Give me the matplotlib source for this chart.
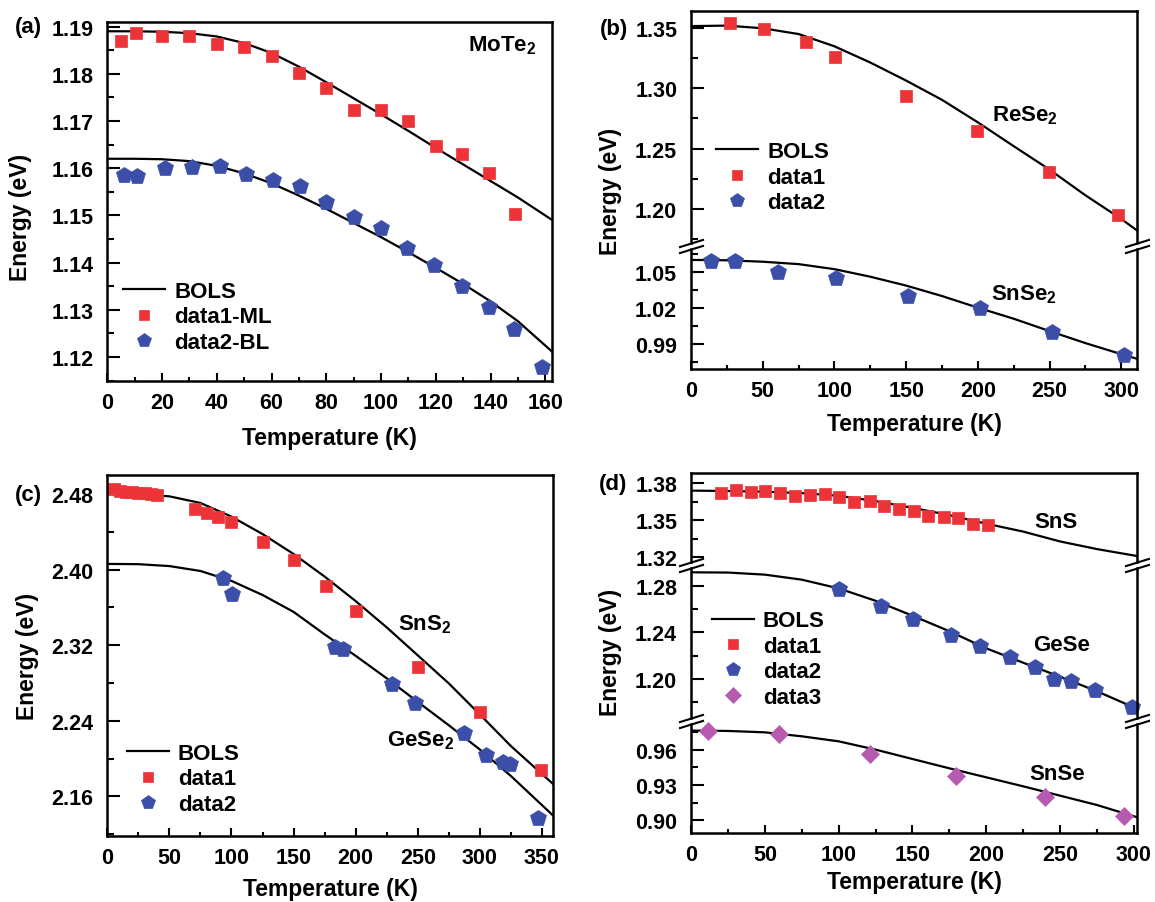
import matplotlib
matplotlib.use("Agg")
import matplotlib.pyplot as plt
from matplotlib.ticker import MultipleLocator, FormatStrFormatter

plt.rcParams['font.family'] = ['Liberation Sans', 'DejaVu Sans']
plt.rcParams['font.weight'] = 'bold'
plt.rcParams['axes.labelweight'] = 'bold'
plt.rcParams['mathtext.fontset'] = 'custom'
plt.rcParams['mathtext.rm'] = 'Liberation Sans'
plt.rcParams['mathtext.bf'] = 'Liberation Sans:bold'
plt.rcParams['mathtext.default'] = 'bf'

RED = '#ec3438'
BLUE = '#3b4fa8'
PINK = '#b75bb0'

# ---------------- (a) MoTe2 ----------------
a_t1 = [5, 10.5, 20, 30, 40, 50, 60, 70, 80, 90, 100, 110, 120, 129.5, 139.5, 149]
a_e1 = [1.1869, 1.1886, 1.1881, 1.1881, 1.1863, 1.1856, 1.1837, 1.1802, 1.1770, 1.1724,
        1.1724, 1.1700, 1.1647, 1.1631, 1.1590, 1.1503]
a_t2 = [6, 11, 21, 31, 41, 50.5, 60.5, 70.5, 80, 90, 100, 109.5, 119.5, 129.5, 139.5, 148.5, 158.8]
a_e2 = [1.1585, 1.1584, 1.1601, 1.1603, 1.1604, 1.1587, 1.1575, 1.1563, 1.1529, 1.1497,
        1.1474, 1.1430, 1.1394, 1.1350, 1.1307, 1.1260, 1.1179]
a_fit_t = [0, 10, 20, 30, 40, 50, 60, 70, 80, 90, 100, 110, 120, 130, 140, 150, 162.6]
a_fit1 = [1.1890, 1.1890, 1.1889, 1.1886, 1.1879, 1.1865, 1.1844, 1.1815, 1.1782, 1.1748,
          1.1714, 1.1679, 1.1643, 1.1608, 1.1573, 1.1538, 1.1490]
a_fit2 = [1.1620, 1.1620, 1.1619, 1.1615, 1.1605, 1.1589, 1.1568, 1.1542, 1.1514, 1.1484,
          1.1454, 1.1422, 1.1389, 1.1355, 1.1318, 1.1276, 1.1211]

# ---------------- (b) ReSe2 / SnSe2 ----------------
b_t1 = [27.4, 51, 80.3, 100.3, 150, 199.5, 249.4, 298]
b_e1 = [1.3544, 1.3494, 1.3384, 1.3264, 1.2940, 1.2649, 1.2308, 1.1947]
b_t2 = [13.8, 30.9, 60.6, 101, 151.2, 201.3, 251.4, 302.3]
b_e2 = [1.0597, 1.0597, 1.0500, 1.0450, 1.0306, 1.0200, 1.0006, 0.9811]
b_fit_t = [0, 25, 50, 75, 100, 125, 150, 175, 200, 225, 250, 275, 300, 311.3]
b_fit1 = [1.3518, 1.3522, 1.3500, 1.3452, 1.3350, 1.3215, 1.3065, 1.2905, 1.2718, 1.2520,
          1.2325, 1.2112, 1.1915, 1.1817]
b_fit2 = [1.0603, 1.0600, 1.0588, 1.0568, 1.0526, 1.0463, 1.0389, 1.0302, 1.0205, 1.0113,
          1.0010, 0.9910, 0.9818, 0.9778]

# ---------------- (c) SnS2 / GeSe2 ----------------
c_t1 = [5, 10, 15, 20, 25, 30, 35, 40, 70.6, 80.5, 89.4, 99.8, 125.1, 150.5, 175.8, 200.2,
        250.3, 300.4, 349.5]
c_e1 = [2.4850, 2.4835, 2.4826, 2.4820, 2.4815, 2.4810, 2.4802, 2.4789, 2.4641, 2.4599,
        2.4553, 2.4507, 2.4296, 2.4106, 2.3830, 2.3566, 2.2966, 2.2488, 2.1881]
c_t2 = [93.3, 100.4, 183.3, 190.1, 229.4, 247.9, 287.5, 304.8, 318.8, 324.2, 347.1]
c_e2 = [2.3908, 2.3742, 2.3177, 2.3159, 2.2789, 2.2588, 2.2270, 2.2037, 2.1959, 2.1942, 2.1367]
c_fit_t = [0, 25, 50, 75, 100, 125, 150, 175, 200, 225, 250, 275, 300, 325, 359]
c_fit1 = [2.4800, 2.4797, 2.4775, 2.4705, 2.4560, 2.4376, 2.4165, 2.3926, 2.3666, 2.3388,
          2.3092, 2.2795, 2.2466, 2.2132, 2.1730]
c_fit2 = [2.4060, 2.4057, 2.4037, 2.3985, 2.3880, 2.3731, 2.3552, 2.3314, 2.3087, 2.2849,
          2.2599, 2.2352, 2.2095, 2.1815, 2.1396]

# ---------------- (d) SnS / GeSe / SnSe ----------------
d_t1 = [20.4, 30.3, 40.3, 50.2, 60.1, 70.6, 80.5, 90.5, 100.4, 110.6, 121, 131, 140.9,
        150.8, 160.8, 171.2, 181.2, 191.1, 201.1]
d_e1 = [1.3719, 1.3749, 1.3732, 1.3741, 1.3722, 1.3700, 1.3708, 1.3714, 1.3692, 1.3646,
        1.3659, 1.3619, 1.3592, 1.3576, 1.3538, 1.3530, 1.3519, 1.3470, 1.3465]
d_t2 = [100.4, 129, 150.1, 176.2, 196.1, 216, 232.9, 246, 257.2, 273.9, 298.7]
d_e2 = [1.2771, 1.2629, 1.2514, 1.2380, 1.2286, 1.2186, 1.2106, 1.2000, 1.1980, 1.1909, 1.1763]
d_t3 = [11.2, 59.4, 121, 179.4, 239.8, 293.7]
d_e3 = [0.9760, 0.9737, 0.9566, 0.9380, 0.9194, 0.9037]
d_fit_t = [0, 25, 50, 75, 100, 125, 150, 175, 200, 225, 250, 275, 302.5]
d_fit1 = [1.3741, 1.3738, 1.3732, 1.3721, 1.3699, 1.3656, 1.3602, 1.3542, 1.3473, 1.3409,
          1.3329, 1.3267, 1.3210]
d_fit2 = [1.2915, 1.2913, 1.2895, 1.2852, 1.2777, 1.2671, 1.2543, 1.2410, 1.2263, 1.2140,
          1.2020, 1.1895, 1.1743]
d_fit3 = [0.9766, 0.9763, 0.9751, 0.9717, 0.9674, 0.9603, 0.9523, 0.9443, 0.9366, 0.9289,
          0.9209, 0.9129, 0.9023]

W, H = 1155, 903
fig = plt.figure(figsize=(W / 100, H / 100), dpi=100)


def px(x, y):
    return (x / W, 1 - y / H)


def add_ax(l, t, r, b):
    return fig.add_axes([l / W, 1 - b / H, (r - l) / W, (b - t) / H])


def style(ax, xmaj, xmin, ymaj, ymin, xlim, ylim):
    ax.set_xlim(*xlim)
    ax.set_ylim(*ylim)
    ax.xaxis.set_major_locator(MultipleLocator(xmaj))
    ax.xaxis.set_minor_locator(MultipleLocator(xmin))
    ax.yaxis.set_major_locator(MultipleLocator(ymaj))
    ax.yaxis.set_minor_locator(MultipleLocator(ymin))
    ax.yaxis.set_major_formatter(FormatStrFormatter('%.2f'))
    ax.tick_params(which='both', direction='in', top=False, right=False, width=1.5,
                   labelsize=15.5)
    ax.tick_params(axis='x', which='major', length=6, pad=8)
    ax.tick_params(axis='x', which='minor', length=3)
    ax.tick_params(axis='y', which='major', length=9, pad=10)
    ax.tick_params(axis='y', which='minor', length=5)
    for s in ax.spines.values():
        s.set_linewidth(1.8)


def hide_x(ax):
    ax.spines['bottom'].set_visible(False)
    ax.tick_params(axis='x', which='both', bottom=False, labelbottom=False)


def breaks(ax, y):
    ax.plot([0, 1], [y, y], transform=ax.transAxes, marker=[(-1, -0.31), (1, 0.31)],
            markersize=18, linestyle='none', color='k', mec='k', mew=1.5, clip_on=False)


def fit(ax, t, e, label='_nolegend_'):
    return ax.plot(t, e, color='k', lw=1.6, label=label)[0]


def pts(ax, t, e, marker, color, ms, label):
    return ax.plot(t, e, linestyle='none', marker=marker, color=color, mec=color, mew=0.5,
                   ms=ms, label=label, clip_on=False)[0]


def legend(ax, handles, x, y):
    ax.legend(handles=handles, loc='center left', bbox_to_anchor=px(x, y),
              bbox_transform=fig.transFigure, frameon=False, borderpad=0,
              prop={'size': 16, 'weight': 'bold'}, markerscale=0.85,
              borderaxespad=0, handlelength=1.9, handletextpad=0.4, labelspacing=0.2)


def xlabel(ax, x, y):
    ax.set_xlabel('Temperature (K)', fontsize=16.5, fontweight='bold', va='center')
    ax.xaxis.set_label_coords(*px(x, y), transform=fig.transFigure)


def ylabel(ax, x, y):
    ax.set_ylabel('Energy (eV)', fontsize=16.5, fontweight='bold', va='center')
    ax.yaxis.set_label_coords(*px(x, y), transform=fig.transFigure)


# (a)
axa = add_ax(107.3, 23.3, 552.4, 381.7)
style(axa, 20, 10, 0.01, 0.005, (0, 162.6), (1.1150, 1.1909))
h0 = fit(axa, a_fit_t, a_fit1, 'BOLS')
fit(axa, a_fit_t, a_fit2)
h1 = pts(axa, a_t1, a_e1, 's', RED, 9.2, 'data1-ML')
h2 = pts(axa, a_t2, a_e2, 'p', BLUE, 12, 'data2-BL')
legend(axa, [h0, h1, h2], 123, 318)
axa.text(131.8, 1.1849, 'MoTe$_2$', fontsize=16, fontweight='bold', ha='left', va='baseline')
xlabel(axa, 329, 439)
ylabel(axa, 21, 217)
fig.text(*px(42.5, 28), '(a)', fontsize=16, fontweight='bold', ha='right', va='center')

# (b)
axb1 = add_ax(691.1, 11.7, 1137.4, 244)
axb2 = add_ax(691.1, 250, 1137.4, 370)
style(axb1, 50, 25, 0.05, 0.025, (0, 311.3), (1.1715, 1.3646))
style(axb2, 50, 25, 0.03, 0.015, (0, 311.3), (0.9694, 1.0694))
hide_x(axb1)
axb2.spines['top'].set_visible(False)
breaks(axb1, 0)
breaks(axb2, 1)
h0 = fit(axb1, b_fit_t, b_fit1, 'BOLS')
fit(axb2, b_fit_t, b_fit2)
h1 = pts(axb1, b_t1, b_e1, 's', RED, 9.2, 'data1')
h2 = pts(axb2, b_t2, b_e2, 'p', BLUE, 12, 'data2')
legend(axb1, [h0, h1, h2], 716, 178)
axb1.text(210.2, 1.2731, 'ReSe$_2$', fontsize=16, fontweight='bold', ha='left', va='baseline')
axb2.text(209, 1.0278, 'SnSe$_2$', fontsize=16, fontweight='bold', ha='left', va='baseline')
xlabel(axb2, 914.3, 425)
ylabel(axb2, 611, 191)
fig.text(*px(627.7, 29), '(b)', fontsize=16, fontweight='bold', ha='right', va='center')

# (c)
axc = add_ax(107.3, 476, 553, 836.7)
style(axc, 50, 25, 0.08, 0.04, (0, 358.9), (2.1183, 2.5001))
h0 = fit(axc, c_fit_t, c_fit1, 'BOLS')
fit(axc, c_fit_t, c_fit2)
h1 = pts(axc, c_t1, c_e1, 's', RED, 9.2, 'data1')
h2 = pts(axc, c_t2, c_e2, 'p', BLUE, 12, 'data2')
legend(axc, [h0, h1, h2], 126.7, 780)
axc.text(233.8, 2.3371, 'SnS$_2$', fontsize=16, fontweight='bold', ha='left', va='baseline')
axc.text(224.9, 2.2136, 'GeSe$_2$', fontsize=16, fontweight='bold', ha='left', va='baseline')
xlabel(axc, 330, 890)
ylabel(axc, 27.7, 656.7)
fig.text(*px(42.5, 495), '(c)', fontsize=16, fontweight='bold', ha='right', va='center')

# (d)
axd1 = add_ax(691.1, 474, 1137.4, 563)
axd2 = add_ax(691.1, 569, 1137.4, 718.7)
axd3 = add_ax(691.1, 724.7, 1137.4, 834)
style(axd1, 50, 25, 0.03, 0.015, (0, 302.5), (1.3162, 1.3884))
style(axd2, 50, 25, 0.04, 0.02, (0, 302.5), (1.1668, 1.2952))
style(axd3, 50, 25, 0.03, 0.015, (0, 302.5), (0.8889, 0.9825))
hide_x(axd1)
hide_x(axd2)
axd2.spines['top'].set_visible(False)
axd3.spines['top'].set_visible(False)
breaks(axd1, 0)
breaks(axd2, 1)
breaks(axd2, 0)
breaks(axd3, 1)
h0 = fit(axd1, d_fit_t, d_fit1, 'BOLS')
fit(axd2, d_fit_t, d_fit2)
fit(axd3, d_fit_t, d_fit3)
h1 = pts(axd1, d_t1, d_e1, 's', RED, 9.2, 'data1')
h2 = pts(axd2, d_t2, d_e2, 'p', BLUE, 12, 'data2')
h3 = pts(axd3, d_t3, d_e3, 'D', PINK, 9.5, 'data3')
legend(axd2, [h0, h1, h2, h3], 711.7, 660)
axd1.text(232.9, 1.3443, 'SnS', fontsize=16, fontweight='bold', ha='left', va='baseline')
axd2.text(231.7, 1.2249, 'GeSe', fontsize=16, fontweight='bold', ha='left', va='baseline')
axd3.text(229.2, 0.9352, 'SnSe', fontsize=16, fontweight='bold', ha='left', va='baseline')
xlabel(axd3, 914.3, 883)
ylabel(axd2, 611, 652)
fig.text(*px(627.7, 484.3), '(d)', fontsize=16, fontweight='bold', ha='right', va='center')

fig.savefig('out.png', dpi=100)
